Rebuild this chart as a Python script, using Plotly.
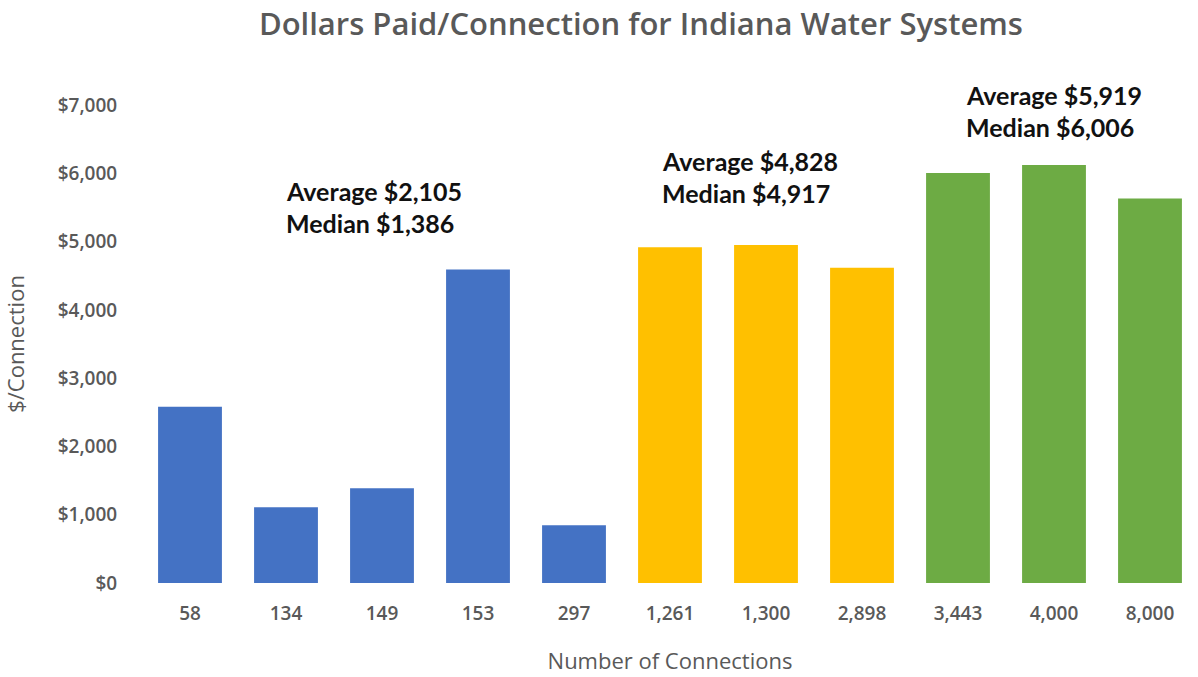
import plotly.graph_objects as go

categories = ["58", "134", "149", "153", "297", "1,261", "1,300", "2,898", "3,443", "4,000", "8,000"]
values = [2580, 1110, 1386, 4590, 845, 4917, 4950, 4617, 6006, 6120, 5631]
groups = ["small"] * 5 + ["medium"] * 3 + ["large"] * 3
group_colors = {"small": "#4472C4", "medium": "#FFC000", "large": "#6DAB44"}

ann_lines = [
    ("Average $2,105", "Median $1,386"),
    ("Average $4,828", "Median $4,917"),
    ("Average $5,919", "Median $6,006"),
]
ann_x = [0.98, 4.9, 8.06]
ann_y = [5740, 6180, 7150]
y_max = 7000

fig = go.Figure()
fig.add_trace(go.Bar(
    x=categories, y=values,
    marker=dict(color=[group_colors[g] for g in groups], line=dict(width=0)),
    showlegend=False, hoverinfo="x+y",
))

for (l1, l2), ax, ay in zip(ann_lines, ann_x, ann_y):
    for i, txt in enumerate((l1, l2)):
        fig.add_annotation(
            x=ax, y=ay / y_max, xref="x", yref="paper", text=txt, showarrow=False,
            xanchor="left", yanchor="middle", yshift=-32 * i,
            font=dict(family="Lato", size=25, color="#111111", weight="bold"),
        )

fig.update_layout(
    width=1198, height=677,
    paper_bgcolor="white", plot_bgcolor="white",
    margin=dict(l=142, r=0, t=105, b=94),
    bargap=0.335,
    title=dict(
        text="Dollars Paid/Connection for Indiana Water Systems",
        x=0.535, xanchor="center", y=0.9645, yanchor="middle",
        font=dict(family="Open Sans", size=31, color="#595959", weight=600),
    ),
    xaxis=dict(
        type="category", showgrid=False, showline=False, zeroline=False,
        tickfont=dict(family="Open Sans", size=19, color="#595959", weight=600),
        ticks="outside", ticklen=13, tickcolor="rgba(0,0,0,0)",
        title=dict(text="Number of Connections", standoff=28,
                   font=dict(family="Open Sans", size=22, color="#595959")),
    ),
    yaxis=dict(
        range=[0, y_max], dtick=1000, tickprefix="$", tickformat=",",
        showgrid=False, showline=False, zeroline=False,
        tickfont=dict(family="Open Sans", size=19, color="#595959", weight=600),
        ticks="outside", ticklen=20, tickcolor="rgba(0,0,0,0)",
        title=dict(text="$/Connection", standoff=33,
                   font=dict(family="Open Sans", size=22, color="#595959")),
    ),
)

fig.write_html("out.html", config={"displayModeBar": False},
               post_script="document.body.style.margin='0';")
